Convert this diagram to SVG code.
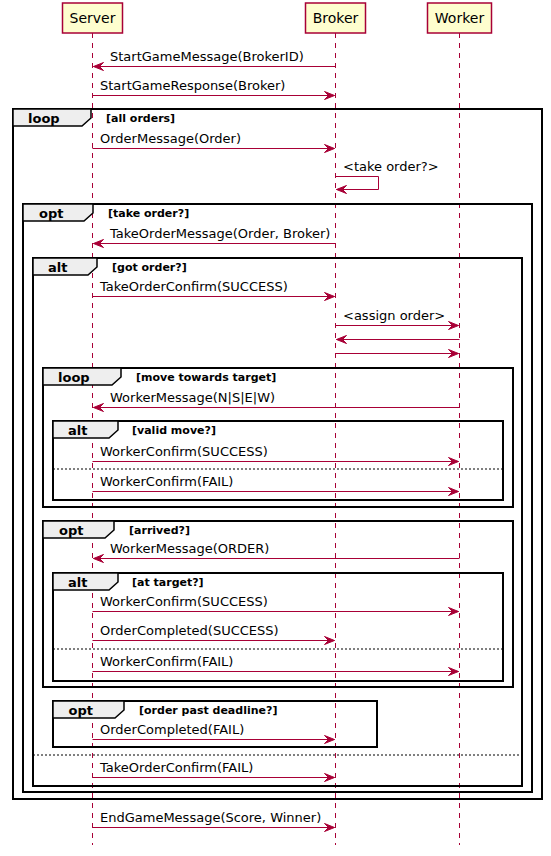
<svg xmlns="http://www.w3.org/2000/svg" width="551" height="856" viewBox="0 0 551 856">
<style>
text{font-family:"DejaVu Sans","Liberation Sans",sans-serif;fill:#000}
.pbox{fill:#FEFECE;stroke:#A80036;stroke-width:1.5}
.pname{font-size:14px;text-anchor:middle}
.life{stroke:#A80036;stroke-width:1;stroke-dasharray:5,5}
.msg{stroke:#A80036;stroke-width:1;fill:none}
.arrow{marker-end:url(#ah)}
.mt{font-size:13px}
.frame{fill:none;stroke:#000;stroke-width:2}
.tab{fill:#EEEEEE;stroke:#000;stroke-width:1.5}
.gk{font-size:13px;font-weight:bold}
.gc{font-size:11px;font-weight:bold}
.sep{stroke:#000;stroke-width:1;stroke-dasharray:2,2}
</style>
<defs>
<marker id="ah" markerUnits="userSpaceOnUse" markerWidth="11" markerHeight="9" refX="10" refY="4" orient="auto" overflow="visible">
<path d="M0,0 L10,4 L0,8 L4,4 Z" fill="#A80036" stroke="#A80036" stroke-width="1"/>
</marker>
</defs>
<rect width="551" height="856" fill="#FFFFFF"/>
<g id="lifelines">
<line class="life" x1="92.5" y1="33" x2="92.5" y2="845"/>
<line class="life" x1="335.5" y1="33" x2="335.5" y2="845"/>
<line class="life" x1="459.5" y1="33" x2="459.5" y2="845"/>
</g>
<g id="Server"><rect class="pbox" x="62.5" y="3" width="60" height="30"/><text class="pname" x="92.5" y="22.5">Server</text></g>
<g id="Broker"><rect class="pbox" x="305.5" y="3" width="60" height="30"/><text class="pname" x="335.5" y="22.5">Broker</text></g>
<g id="Worker"><rect class="pbox" x="427.5" y="3" width="64" height="30"/><text class="pname" x="459.5" y="22.5">Worker</text></g>
<g id="groups">
<g id="loop-all-orders">
<rect class="frame" x="13" y="109" width="529" height="690"/>
<path class="tab" d="M13,109 L91,109 L91,118 L82,126 L13,126 Z"/>
<text class="gk" x="28" y="123">loop</text><text class="gc" x="106" y="121.5">[all orders]</text>
</g>
<g id="opt-take-order">
<rect class="frame" x="23" y="204" width="509" height="588"/>
<path class="tab" d="M23,204 L93,204 L93,213 L84,221 L23,221 Z"/>
<text class="gk" x="39" y="218">opt</text><text class="gc" x="108" y="216.5">[take order?]</text>
</g>
<g id="alt-got-order">
<rect class="frame" x="33" y="258" width="489" height="528"/>
<path class="tab" d="M33,258 L97,258 L97,267 L88,275 L33,275 Z"/>
<text class="gk" x="48" y="272">alt</text><text class="gc" x="112" y="270.5">[got order?]</text>
<line class="sep" x1="33" y1="755" x2="522" y2="755"/>
</g>
<g id="loop-move">
<rect class="frame" x="43" y="368" width="470" height="139"/>
<path class="tab" d="M43,368 L121,368 L121,377 L112,385 L43,385 Z"/>
<text class="gk" x="58" y="382">loop</text><text class="gc" x="136" y="380.5">[move towards target]</text>
</g>
<g id="alt-valid-move">
<rect class="frame" x="53" y="421" width="450" height="79"/>
<path class="tab" d="M53,421 L118,421 L118,430 L109,438 L53,438 Z"/>
<text class="gk" x="68" y="435">alt</text><text class="gc" x="132" y="433.5">[valid move?]</text>
<line class="sep" x1="53" y1="469" x2="503" y2="469"/>
</g>
<g id="opt-arrived">
<rect class="frame" x="43" y="521" width="470" height="166"/>
<path class="tab" d="M43,521 L114,521 L114,530 L105,538 L43,538 Z"/>
<text class="gk" x="59" y="535">opt</text><text class="gc" x="129" y="533.5">[arrived?]</text>
</g>
<g id="alt-at-target">
<rect class="frame" x="53" y="573" width="450" height="108"/>
<path class="tab" d="M53,573 L118,573 L118,582 L109,590 L53,590 Z"/>
<text class="gk" x="68" y="587">alt</text><text class="gc" x="132" y="585.5">[at target?]</text>
<line class="sep" x1="53" y1="649" x2="503" y2="649"/>
</g>
<g id="opt-deadline">
<rect class="frame" x="53" y="701" width="324" height="46"/>
<path class="tab" d="M53,701 L124,701 L124,710 L115,718 L53,718 Z"/>
<text class="gk" x="68.5" y="715">opt</text><text class="gc" x="139" y="713.5">[order past deadline?]</text>
</g>
</g>
<g id="connectors">
<line class="msg arrow" x1="335.5" y1="66.5" x2="93.5" y2="66.5"/><text class="mt" x="110" y="60.5">StartGameMessage(BrokerID)</text>
<line class="msg arrow" x1="92.5" y1="95.5" x2="334.5" y2="95.5"/><text class="mt" x="100" y="89.5">StartGameResponse(Broker)</text>
<line class="msg arrow" x1="92.5" y1="148.5" x2="334.5" y2="148.5"/><text class="mt" x="100" y="142.5">OrderMessage(Order)</text>
<path class="msg arrow" d="M335.5,176.5 L378.5,176.5 L378.5,189.5 L336.5,189.5"/><text class="mt" x="343" y="171">&lt;take order?&gt;</text>
<line class="msg arrow" x1="335.5" y1="243.5" x2="93.5" y2="243.5"/><text class="mt" x="110" y="237.5">TakeOrderMessage(Order, Broker)</text>
<line class="msg arrow" x1="92.5" y1="296.5" x2="334.5" y2="296.5"/><text class="mt" x="100" y="290.5">TakeOrderConfirm(SUCCESS)</text>
<line class="msg arrow" x1="335.5" y1="325.5" x2="458.5" y2="325.5"/><text class="mt" x="343" y="319.5">&lt;assign order&gt;</text>
<line class="msg arrow" x1="459.5" y1="339.5" x2="336.5" y2="339.5"/>
<line class="msg arrow" x1="335.5" y1="353.5" x2="458.5" y2="353.5"/>
<line class="msg arrow" x1="459.5" y1="407.5" x2="93.5" y2="407.5"/><text class="mt" x="110" y="401.5">WorkerMessage(N|S|E|W)</text>
<line class="msg arrow" x1="92.5" y1="461.5" x2="458.5" y2="461.5"/><text class="mt" x="100" y="455.5">WorkerConfirm(SUCCESS)</text>
<line class="msg arrow" x1="92.5" y1="491.5" x2="458.5" y2="491.5"/><text class="mt" x="100" y="485.5">WorkerConfirm(FAIL)</text>
<line class="msg arrow" x1="459.5" y1="558.5" x2="93.5" y2="558.5"/><text class="mt" x="110" y="552.5">WorkerMessage(ORDER)</text>
<line class="msg arrow" x1="92.5" y1="611.5" x2="458.5" y2="611.5"/><text class="mt" x="100" y="605.5">WorkerConfirm(SUCCESS)</text>
<line class="msg arrow" x1="92.5" y1="640.5" x2="334.5" y2="640.5"/><text class="mt" x="100" y="634.5">OrderCompleted(SUCCESS)</text>
<line class="msg arrow" x1="92.5" y1="671.5" x2="458.5" y2="671.5"/><text class="mt" x="100" y="665.5">WorkerConfirm(FAIL)</text>
<line class="msg arrow" x1="92.5" y1="739.5" x2="334.5" y2="739.5"/><text class="mt" x="100" y="733.5">OrderCompleted(FAIL)</text>
<line class="msg arrow" x1="92.5" y1="777.5" x2="334.5" y2="777.5"/><text class="mt" x="100" y="771.5">TakeOrderConfirm(FAIL)</text>
<line class="msg arrow" x1="92.5" y1="827.5" x2="334.5" y2="827.5"/><text class="mt" x="100" y="821.5">EndGameMessage(Score, Winner)</text>
</g>
</svg>
